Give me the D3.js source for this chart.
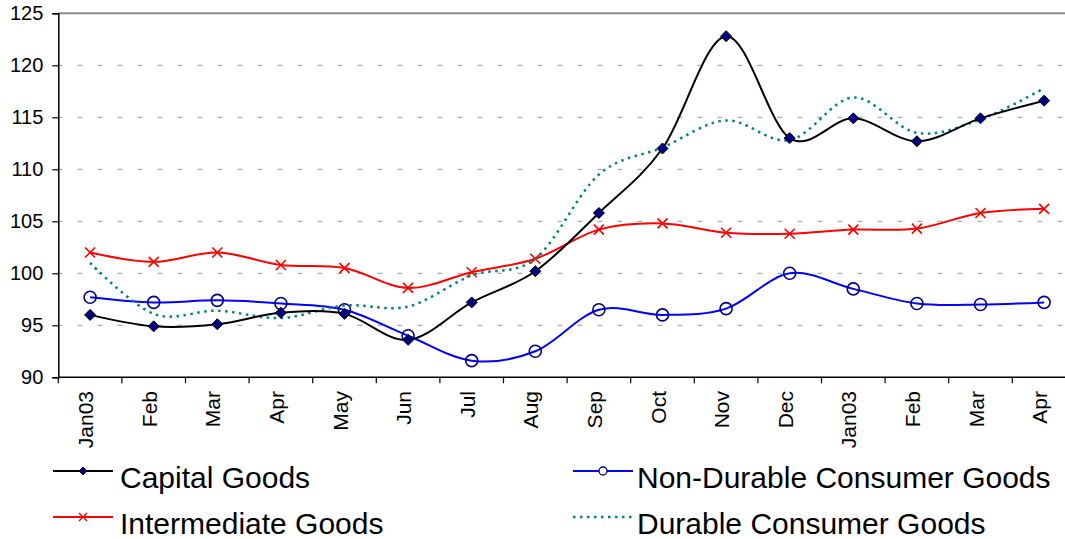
<!DOCTYPE html>
<html>
<head>
<meta charset="utf-8">
<script src="https://cdn.jsdelivr.net/npm/d3@7"></script>
<style>
  body { margin: 0; background: #fff; }
  svg { display: block; font-family: Arial, "Liberation Sans", sans-serif; }
</style>
</head>
<body>
<svg id="chart" width="1065" height="539"></svg>
<script>
// months, two years running
const months = ["Jan03","Feb","Mar","Apr","May","Jun","Jul","Aug","Sep","Oct","Nov","Dec","Jan03","Feb","Mar","Apr"];
const yTicks = [90, 95, 100, 105, 110, 115, 120, 125];

const capitalGoods      = [96.0, 94.9, 95.1, 96.2, 96.1, 93.6, 97.2, 100.2, 105.8, 112.0, 122.8, 113.0, 114.9, 112.7, 114.9, 116.6];
const nonDurableGoods   = [97.7, 97.2, 97.4, 97.1, 96.5, 94.0, 91.6, 92.5, 96.5, 96.0, 96.6, 100.0, 98.5, 97.1, 97.0, 97.2];
const intermediateGoods = [102.0, 101.1, 102.0, 100.8, 100.5, 98.6, 100.1, 101.4, 104.2, 104.8, 103.9, 103.8, 104.2, 104.3, 105.8, 106.2];
const durableGoods      = [101.0, 96.1, 96.4, 95.7, 96.9, 96.8, 99.8, 101.4, 109.5, 112.1, 114.7, 112.8, 116.9, 113.5, 114.8, 117.8];

const seriesNames = ["Capital Goods","Non-Durable Consumer Goods","Intermediate Goods","Durable Consumer Goods"];

function myInit()
{
    const svg = d3.select("#chart");
    const left = 58.3, top = 13.3, bottom = 377.3;
    const step = 63.6;

    const x = d3.scaleBand()
        .domain(d3.range(months.length))
        .range([left, left + step * months.length])
        .paddingInner(0).paddingOuter(0);
    const cx = i => x(i) + x.bandwidth() / 2;

    const y = d3.scaleLinear().domain([90, 125]).range([bottom, top]);

    // grid
    svg.append("g").selectAll("line")
        .data(yTicks.filter(t => t > 90 && t < 125))
        .enter().append("line")
        .attr("x1", left).attr("x2", 1065)
        .attr("y1", d => y(d)).attr("y2", d => y(d))
        .attr("stroke", "#9a9a9a").attr("stroke-width", 1)
        .attr("stroke-dasharray", "5,15").attr("stroke-dashoffset", 1);
    svg.append("line")
        .attr("x1", left).attr("x2", 1065)
        .attr("y1", y(125)).attr("y2", y(125))
        .attr("stroke", "#8c8c8c").attr("stroke-width", 2);

    // y axis
    const yAxis = svg.append("g")
        .attr("transform", "translate(" + left + ",0)")
        .call(d3.axisLeft(y).tickValues(yTicks).tickSize(6).tickPadding(9));
    yAxis.select(".domain").attr("stroke", "#000").attr("stroke-width", 1.5);
    yAxis.selectAll(".tick line").attr("stroke", "#000").attr("stroke-width", 1.2);
    yAxis.selectAll("text").attr("font-size", 20).attr("fill", "#000")
        .attr("font-family", "Arial, 'Liberation Sans', sans-serif");

    // x axis
    svg.append("line")
        .attr("x1", left).attr("x2", 1065)
        .attr("y1", bottom).attr("y2", bottom)
        .attr("stroke", "#000").attr("stroke-width", 1.5);
    svg.append("g").selectAll("line")
        .data(d3.range(months.length))
        .enter().append("line")
        .attr("x1", d => x(d)).attr("x2", d => x(d))
        .attr("y1", bottom).attr("y2", bottom + 6)
        .attr("stroke", "#000").attr("stroke-width", 1.2);
    svg.append("g").selectAll("text")
        .data(months)
        .enter().append("text")
        .attr("transform", (d, i) => "translate(" + (cx(i) + 3) + "," + 391 + ") rotate(-90)")
        .attr("text-anchor", "end")
        .attr("font-size", 21)
        .attr("fill", "#000")
        .text(d => d);

    const line = d3.line()
        .x((d, i) => cx(i))
        .y(d => y(d))
        .curve(d3.curveCardinal.tension(0));

    const plot = svg.append("g");

    // non-durable
    plot.append("path").datum(nonDurableGoods)
        .attr("d", line).attr("fill", "none")
        .attr("stroke", "#0000ff").attr("stroke-width", 2);
    plot.selectAll(".mk-nd").data(nonDurableGoods).enter().append("circle")
        .attr("class", "mk-nd")
        .attr("cx", (d, i) => cx(i)).attr("cy", d => y(d)).attr("r", 6)
        .attr("fill", "none").attr("stroke", "#000080").attr("stroke-width", 1.6);

    // intermediate
    plot.append("path").datum(intermediateGoods)
        .attr("d", line).attr("fill", "none")
        .attr("stroke", "#ff0000").attr("stroke-width", 2);
    plot.selectAll(".mk-im").data(intermediateGoods).enter().append("path")
        .attr("class", "mk-im")
        .attr("transform", (d, i) => "translate(" + cx(i) + "," + y(d) + ")")
        .attr("d", "M-5,-5L5,5M-5,5L5,-5")
        .attr("stroke", "#ff0000").attr("stroke-width", 1.6).attr("fill", "none");

    // durable
    plot.append("path").datum(durableGoods)
        .attr("d", line).attr("fill", "none")
        .attr("stroke", "#008080").attr("stroke-width", 2.5)
        .attr("stroke-dasharray", "2.5,4.5");

    // capital
    plot.append("path").datum(capitalGoods)
        .attr("d", line).attr("fill", "none")
        .attr("stroke", "#000").attr("stroke-width", 2);
    plot.selectAll(".mk-cap").data(capitalGoods).enter().append("path")
        .attr("class", "mk-cap")
        .attr("transform", (d, i) => "translate(" + cx(i) + "," + y(d) + ")")
        .attr("d", "M0,-5.5L5.5,0L0,5.5L-5.5,0Z")
        .attr("fill", "#000080").attr("stroke", "#000").attr("stroke-width", 1);

    // legend
    const legendPos = [
        {lx: 53, ly: 471, tx: 120},
        {lx: 573, ly: 471, tx: 637},
        {lx: 53, ly: 517, tx: 120},
        {lx: 573, ly: 517, tx: 637}
    ];
    const legendStyle = [
        {color: "#000", mark: "diamond", dash: null},
        {color: "#0000ff", mark: "circle", dash: null},
        {color: "#ff0000", mark: "cross", dash: null},
        {color: "#008080", mark: null, dash: "2.5,4.5"}
    ];
    const lg = svg.append("g");
    seriesNames.forEach((name, k) => {
        const p = legendPos[k], s = legendStyle[k];
        const g = lg.append("g");
        const ln = g.append("line")
            .attr("x1", p.lx).attr("x2", p.lx + 60)
            .attr("y1", p.ly).attr("y2", p.ly)
            .attr("stroke", s.color).attr("stroke-width", s.dash ? 2.5 : 2);
        if (s.dash) ln.attr("stroke-dasharray", s.dash);
        const mx = p.lx + 30;
        if (s.mark == "diamond") {
            g.append("path").attr("transform", "translate(" + mx + "," + p.ly + ")")
                .attr("d", "M0,-4L4,0L0,4L-4,0Z")
                .attr("fill", "#000080").attr("stroke", "#000").attr("stroke-width", 0.8);
        } else if (s.mark == "circle") {
            g.append("circle").attr("cx", mx).attr("cy", p.ly).attr("r", 4)
                .attr("fill", "#fff").attr("stroke", "#000080").attr("stroke-width", 1.3);
        } else if (s.mark == "cross") {
            g.append("path").attr("transform", "translate(" + mx + "," + p.ly + ")")
                .attr("d", "M-4,-4L4,4M-4,4L4,-4")
                .attr("stroke", "#ff0000").attr("stroke-width", 1.4);
        }
        g.append("text")
            .attr("x", p.tx).attr("y", p.ly + 17)
            .attr("font-size", 30).attr("fill", "#000")
            .text(name);
    });
}

document.addEventListener("DOMContentLoaded", function(event){
    myInit();
});
</script>
</body>
</html>
